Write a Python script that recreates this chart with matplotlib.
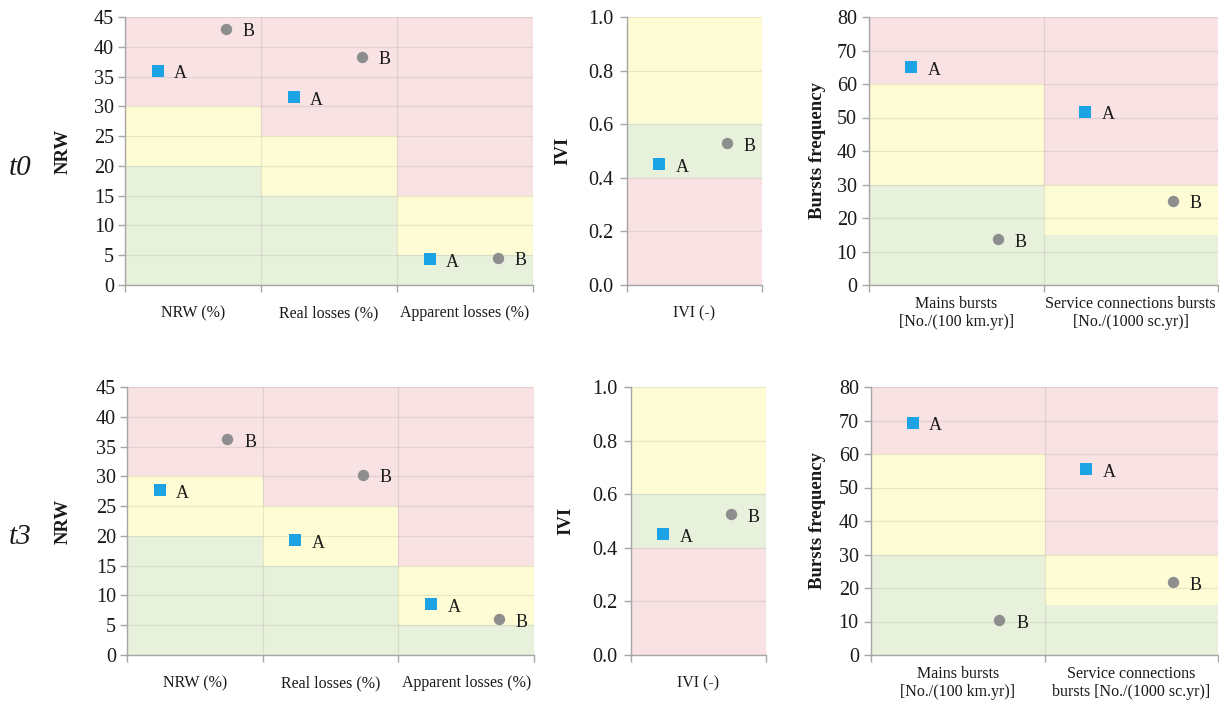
import matplotlib
matplotlib.use("Agg")
import matplotlib.pyplot as plt
from matplotlib.ticker import MultipleLocator, FormatStrFormatter

plt.rcParams['font.family'] = ['Liberation Serif', 'DejaVu Serif']

# ---- categories -------------------------------------------------------
loss_categories = ["NRW (%)", "Real losses (%)", "Apparent losses (%)"]
ivi_categories = ["IVI (-)"]
burst_categories_t0 = ["Mains bursts\n[No./(100 km.yr)]",
                       "Service connections bursts\n[No./(1000 sc.yr)]"]
burst_categories_t3 = ["Mains bursts\n[No./(100 km.yr)]",
                       "Service connections\nbursts [No./(1000 sc.yr)]"]

# ---- performance bands (edges per category, levels bottom to top) -----
loss_band_edges = [[0, 20, 30, 45], [0, 15, 25, 45], [0, 5, 15, 45]]
loss_band_levels = ["good", "fair", "poor"]
ivi_band_edges = [[0, 0.4, 0.6, 1.0]]
ivi_band_levels = ["poor", "good", "fair"]
burst_band_edges = [[0, 30, 60, 80], [0, 15, 30, 80]]
burst_band_levels = ["good", "fair", "poor"]

# ---- utility values ----------------------------------------------------
loss_A_t0 = [36.0, 31.5, 4.3]
loss_B_t0 = [43.0, 38.3, 4.6]
loss_A_t3 = [27.7, 19.3, 8.5]
loss_B_t3 = [36.2, 30.3, 6.0]

ivi_A_t0 = [0.45]
ivi_B_t0 = [0.53]
ivi_A_t3 = [0.45]
ivi_B_t3 = [0.525]

burst_A_t0 = [65.0, 51.7]
burst_B_t0 = [13.7, 25.2]
burst_A_t3 = [69.3, 55.4]
burst_B_t3 = [10.4, 21.8]

# ---- styling -----------------------------------------------------------
W, H = 1219, 701
level_colors = {"good": "#E8F1DB", "fair": "#FEFCD4", "poor": "#F9E2E3"}
color_A = "#1CA3E3"
color_B = "#8E8E8E"
spine_color = "#A6A6A6"
text_color = "#1a1a1a"
offset_A, offset_B = 0.24, 0.74

fig = plt.figure(figsize=(W / 100, H / 100), dpi=100)
fig.patch.set_facecolor("white")


def px_axes(left, top, right, bottom):
    return fig.add_axes([left / W, 1 - bottom / H, (right - left) / W,
                         (bottom - top) / H])


def panel(box, categories, edges, levels, vals_A, vals_B, ymax, ystep,
          ylabel, label_offset_px, fmt, tick_pad):
    ax = px_axes(*box)
    n = len(categories)
    width_px = box[2] - box[0]

    # coloured performance bands
    for i, e in enumerate(edges):
        for k, lvl in enumerate(levels):
            ax.bar(i + 0.5, e[k + 1] - e[k], bottom=e[k], width=1.0,
                   color=level_colors[lvl], linewidth=0, zorder=0.8)

    xs = range(n)
    xa = [i + offset_A for i in xs]
    xb = [i + offset_B for i in xs]
    ax.plot(xa, vals_A, linestyle="none", marker="s", markersize=8.2,
            color=color_A, markeredgewidth=0, zorder=4)
    ax.plot(xb, vals_B, linestyle="none", marker="o", markersize=8.2,
            color=color_B, markeredgewidth=0, zorder=4)
    for x, y in zip(xa, vals_A):
        ax.annotate("A", (x, y), xytext=(12, -2.2), textcoords="offset points",
                    ha="left", va="center", fontsize=13, color=text_color)
    for x, y in zip(xb, vals_B):
        ax.annotate("B", (x, y), xytext=(12, -2.2), textcoords="offset points",
                    ha="left", va="center", fontsize=13, color=text_color)

    ax.set_xlim(0, n)
    ax.set_ylim(0, ymax)
    ax.set_xticks(range(n + 1))
    ax.set_xticklabels([])
    ax.yaxis.set_major_locator(MultipleLocator(ystep))
    ax.yaxis.set_major_formatter(FormatStrFormatter(fmt))
    ax.grid(True, axis="both", color="black", alpha=0.08, linewidth=0.9)

    for s in ("top", "right"):
        ax.spines[s].set_visible(False)
    for s in ("left", "bottom"):
        ax.spines[s].set_color(spine_color)
        ax.spines[s].set_linewidth(1.0)
    ax.tick_params(axis="both", direction="out", length=4.8, width=1.0,
                   color=spine_color)
    ax.tick_params(axis="y", labelsize=14.5, pad=tick_pad,
                   labelcolor=text_color)

    for i, cat in enumerate(categories):
        ax.annotate(cat, xy=(i + 0.5, 0), xycoords=("data", "axes fraction"),
                    xytext=(0, -20.2), textcoords="offset points",
                    ha="center", va="center", fontsize=11.5, linespacing=1.12,
                    color=text_color)

    ax.set_ylabel(ylabel, fontsize=13.5, fontweight="bold", va="center",
                  color=text_color)
    ax.yaxis.set_label_coords(-label_offset_px / width_px, 0.5)
    return ax


# ---- row t0 ------------------------------------------------------------
panel((125, 17, 533, 285), loss_categories, loss_band_edges, loss_band_levels,
      loss_A_t0, loss_B_t0, 45, 5, "NRW", 62, "%d", 3)
panel((627, 17, 762, 285), ivi_categories, ivi_band_edges, ivi_band_levels,
      ivi_A_t0, ivi_B_t0, 1.0, 0.2, "IVI", 64, "%.1f", 5)
panel((869, 17, 1218, 285), burst_categories_t0, burst_band_edges,
      burst_band_levels, burst_A_t0, burst_B_t0, 80, 10,
      "Bursts frequency", 52, "%d", 4)

# ---- row t3 ------------------------------------------------------------
panel((127, 387, 534, 655), loss_categories, loss_band_edges, loss_band_levels,
      loss_A_t3, loss_B_t3, 45, 5, "NRW", 64, "%d", 3)
panel((631, 387, 766, 655), ivi_categories, ivi_band_edges, ivi_band_levels,
      ivi_A_t3, ivi_B_t3, 1.0, 0.2, "IVI", 65, "%.1f", 5)
panel((871, 387, 1218, 655), burst_categories_t3, burst_band_edges,
      burst_band_levels, burst_A_t3, burst_B_t3, 80, 10,
      "Bursts frequency", 53, "%d", 4)

fig.text(20 / W, 1 - 168 / H, "t0", style="italic", fontsize=21,
         ha="center", va="center", color=text_color)
fig.text(20 / W, 1 - 537 / H, "t3", style="italic", fontsize=21,
         ha="center", va="center", color=text_color)

fig.savefig("out.png", dpi=100, facecolor="white")
